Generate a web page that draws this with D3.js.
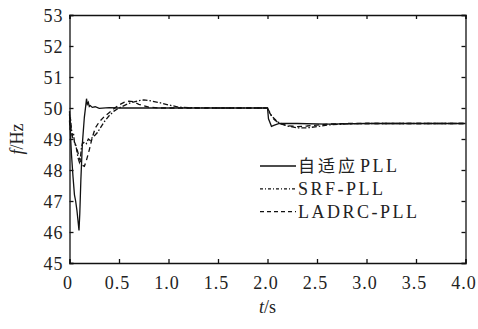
<!DOCTYPE html>
<html>
<head>
<meta charset="utf-8">
<script src="https://cdn.jsdelivr.net/npm/d3@7"></script>
<style>
  body { margin: 0; background: #fff; }
  .lbl { font-family: "Liberation Serif", serif; font-size: 18px; fill: #222; }
  .cjk { font-family: "Noto Sans CJK SC"; }
</style>
</head>
<body>
<svg id="chart" width="478" height="329"></svg>
<script>
// 数据: 时间 (s) 与频率 (Hz)
var xTicks = [0, 0.5, 1.0, 1.5, 2.0, 2.5, 3.0, 3.5, 4.0];
var yTicks = [45, 46, 47, 48, 49, 50, 51, 52, 53];

var adaptiveT = [0, 0.005, 0.012, 0.02, 0.035, 0.05, 0.062, 0.075, 0.088, 0.096, 0.104, 0.115, 0.13, 0.15, 0.165, 0.172, 0.18, 0.19, 0.2, 0.21, 0.23, 0.26, 0.3, 0.4, 0.5, 1.0, 1.5, 2.0, 2.01, 2.04, 2.07, 2.12, 2.3, 2.6, 3.0, 3.5, 4.0];
var adaptiveF = [49.9, 49.6, 49.0, 48.5, 47.8, 47.2, 47.0, 46.7, 46.3, 46.05, 46.6, 47.7, 48.85, 49.7, 50.1, 50.3, 50.12, 50.18, 50.05, 50.08, 50.02, 50.04, 49.99, 50.01, 50.0, 50.0, 50.0, 50.0, 49.65, 49.41, 49.45, 49.5, 49.5, 49.48, 49.5, 49.5, 49.5];

var srfT = [0, 0.005, 0.01, 0.02, 0.03, 0.04, 0.05, 0.06, 0.07, 0.08, 0.09, 0.1, 0.11, 0.12, 0.13, 0.15, 0.17, 0.19, 0.21, 0.23, 0.25, 0.28, 0.31, 0.35, 0.4, 0.45, 0.5, 0.6, 0.7, 0.75, 0.8, 0.9, 1.0, 1.1, 1.2, 1.5, 2.0, 2.04, 2.1, 2.2, 2.3, 2.4, 2.5, 2.6, 2.8, 3.0, 3.5, 4.0];
var srfF = [49.8, 49.5, 49.7, 49.3, 49.1, 49.2, 48.9, 48.8, 48.7, 48.5, 48.35, 48.25, 48.4, 48.7, 48.85, 48.9, 48.85, 49.0, 48.95, 49.05, 49.1, 49.2, 49.35, 49.55, 49.75, 49.9, 50.0, 50.15, 50.24, 50.26, 50.24, 50.18, 50.1, 50.03, 50.01, 50.0, 50.0, 49.75, 49.55, 49.42, 49.36, 49.36, 49.4, 49.45, 49.49, 49.5, 49.5, 49.5];

var ladrcT = [0, 0.005, 0.01, 0.02, 0.03, 0.05, 0.07, 0.09, 0.11, 0.13, 0.15, 0.17, 0.2, 0.23, 0.26, 0.3, 0.35, 0.4, 0.45, 0.5, 0.55, 0.6, 0.65, 0.7, 0.8, 0.9, 1.0, 1.5, 2.0, 2.02, 2.06, 2.12, 2.2, 2.3, 2.4, 2.5, 2.6, 2.8, 3.0, 4.0];
var ladrcF = [49.6, 49.3, 49.5, 49.2, 49.05, 48.9, 48.75, 48.5, 48.3, 48.15, 48.12, 48.3, 48.65, 49.05, 49.35, 49.55, 49.72, 49.85, 49.98, 50.1, 50.18, 50.22, 50.2, 50.12, 50.03, 50.0, 50.0, 50.0, 50.0, 49.85, 49.65, 49.5, 49.43, 49.4, 49.42, 49.45, 49.48, 49.5, 49.5, 49.5];

// 图例: [中文部分, 西文部分]
var seriesNames = [["自适应", "PLL"], ["", "SRF-PLL"], ["", "LADRC-PLL"]];

var svg = d3.select("#chart");
var margin = { top: 15, right: 12.5, bottom: 66, left: 69.5 };
var width = 478 - margin.left - margin.right;
var height = 329 - margin.top - margin.bottom;

var x = d3.scaleLinear().domain([0, 4]).range([0, width]);
var y = d3.scaleLinear().domain([45, 53]).range([height, 0]);

var g = svg.append("g")
    .attr("transform", "translate(" + margin.left + "," + margin.top + ")");

// 曲线
function toPoints(ts, fs) {
    return ts.map(function(t, i) { return [t, fs[i]]; });
}
var line = d3.line()
    .x(function(d) { return x(d[0]); })
    .y(function(d) { return y(d[1]); });

var series = [
    { pts: toPoints(srfT, srfF), dash: "5,2,1.5,2" },
    { pts: toPoints(ladrcT, ladrcF), dash: "5,3.5" },
    { pts: toPoints(adaptiveT, adaptiveF), dash: null }
];

g.selectAll(".curve")
    .data(series)
    .enter().append("path")
    .attr("class", "curve")
    .attr("d", function(d) { return line(d.pts); })
    .attr("fill", "none")
    .attr("stroke", "#111")
    .attr("stroke-width", 1.3)
    .attr("stroke-dasharray", function(d) { return d.dash; });

// 坐标轴 (刻度朝内, 四边)
var fmtX = function(d) { return d === 0 ? "0" : d.toFixed(1); };

var xAxis = g.append("g")
    .attr("transform", "translate(0," + height + ")")
    .call(d3.axisBottom(x).tickValues(xTicks).tickSize(-4).tickPadding(13).tickFormat(fmtX));
g.append("g")
    .call(d3.axisTop(x).tickValues(xTicks).tickSize(-4).tickFormat(""));
var yAxis = g.append("g")
    .call(d3.axisLeft(y).tickValues(yTicks).tickSize(-4).tickPadding(6));
g.append("g")
    .attr("transform", "translate(" + width + ",0)")
    .call(d3.axisRight(y).tickValues(yTicks).tickSize(-4).tickFormat(""));

g.selectAll("g").attr("font-family", null).attr("font-size", null);
g.selectAll(".domain").attr("stroke", "#111").attr("stroke-width", 1.3);
g.selectAll(".tick line").attr("stroke", "#111").attr("stroke-width", 1.3);
g.selectAll(".tick text")
    .attr("class", "lbl")
    .attr("fill", "#222")
    .style("letter-spacing", "1px");
xAxis.selectAll(".tick text").attr("dx", "-2");
yAxis.selectAll(".tick text").attr("dy", "0.34em");

// 轴标题
var xt = svg.append("text")
    .attr("class", "lbl")
    .attr("x", margin.left + width / 2)
    .attr("y", 313)
    .attr("text-anchor", "middle");
xt.append("tspan").style("font-style", "italic").text("t");
xt.append("tspan").text("/s");

var yt = svg.append("text")
    .attr("class", "lbl")
    .attr("transform", "translate(23," + (margin.top + height / 2) + ") rotate(-90)")
    .attr("text-anchor", "middle");
yt.append("tspan").style("font-style", "italic").text("f");
yt.append("tspan").text("/Hz");

// 图例
var legendDash = [null, "3,2,1,2", "4,3"];
var legend = svg.append("g").attr("transform", "translate(260,166)");
var rows = legend.selectAll(".row")
    .data(seriesNames)
    .enter().append("g")
    .attr("class", "row")
    .attr("transform", function(d, i) { return "translate(0," + (i * 22.8) + ")"; });

rows.append("line")
    .attr("x1", 0).attr("x2", 36)
    .attr("stroke", "#111")
    .attr("stroke-width", 1.3)
    .attr("stroke-dasharray", function(d, i) { return legendDash[i]; });

var lt = rows.append("text")
    .attr("class", "lbl")
    .attr("x", 38)
    .attr("dy", "0.35em")
    .style("letter-spacing", "2.5px");
lt.filter(function(d) { return d[0]; })
    .append("tspan")
    .attr("class", "cjk")
    .style("font-size", "17px")
    .style("letter-spacing", "3px")
    .text(function(d) { return d[0]; });
lt.append("tspan")
    .attr("dx", function(d) { return d[0] ? 2 : 0; })
    .text(function(d) { return d[1]; });
</script>
</body>
</html>
